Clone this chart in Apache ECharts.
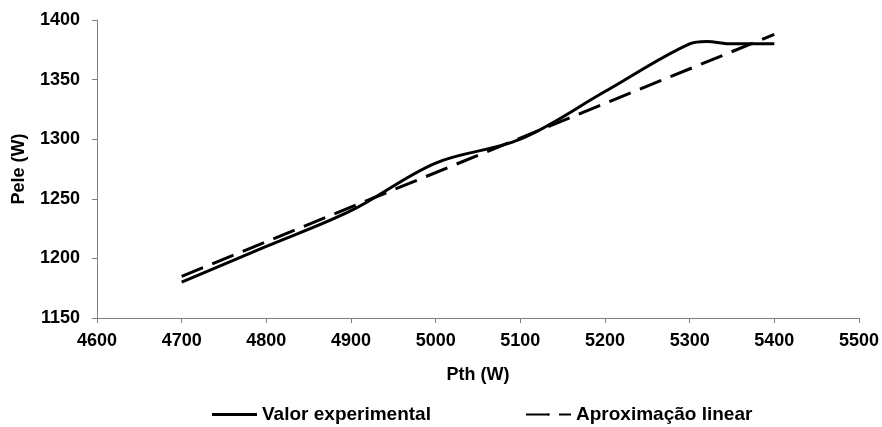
<!DOCTYPE html>
<html>
<head>
<meta charset="utf-8">
<script src="https://cdn.jsdelivr.net/npm/echarts@6/dist/echarts.min.js"></script>
<style>
html, body { margin: 0; padding: 0; background: #fff; }
#main { width: 882px; height: 427px; }
</style>
</head>
<body>
<div id="main"></div>
<script>
// valores
var pth = [4700, 4800, 4900, 5000, 5100, 5200, 5300, 5320, 5350, 5400];
var peleExp = [1180, 1210, 1240, 1280, 1300, 1340, 1380, 1382, 1380, 1380];
var linX = [4700, 5400];
var linY = [1185, 1388];

function pares(xs, ys) {
    return xs.map(function (x, i) { return [x, ys[i]]; });
}

var fonte = 'Liberation Sans, Arial, sans-serif';
var texto = { fontFamily: fonte, fontWeight: 'bold', fontSize: 18, color: '#000' };
var myChart = echarts.init(document.getElementById('main'));
myChart.setOption({
    animation: false,
    grid: { left: 97, right: 21, top: 20, bottom: 109 },
    legend: [{
        left: 207, top: 400,
        itemWidth: 45, itemHeight: 3, itemGap: 4,
        textStyle: { fontFamily: fonte, fontWeight: 'bold', fontSize: 19, color: '#000' },
        data: [{ name: 'Valor experimental', icon: 'rect' }]
    }, {
        left: 520, top: 400,
        itemWidth: 45, itemHeight: 3, itemGap: 3,
        textStyle: { fontFamily: fonte, fontWeight: 'bold', fontSize: 19, color: '#000' },
        data: ['Aproximação linear']
    }],
    xAxis: {
        type: 'value', min: 4600, max: 5500, interval: 100,
        name: 'Pth (W)', nameLocation: 'middle', nameGap: 48,
        nameTextStyle: texto,
        axisLine: { lineStyle: { color: '#808080', width: 1 } },
        axisTick: { show: true, length: 5, lineStyle: { color: '#808080' } },
        axisLabel: Object.assign({ margin: 14, formatter: function (v) { return String(v); } }, texto),
        splitLine: { show: false }
    },
    yAxis: {
        type: 'value', min: 1150, max: 1400, interval: 50,
        name: 'Pele (W)', nameLocation: 'middle', nameGap: 69,
        nameTextStyle: texto,
        axisLine: { show: true, lineStyle: { color: '#808080', width: 1 } },
        axisTick: { show: true, length: 5, lineStyle: { color: '#808080' } },
        axisLabel: Object.assign({ margin: 17, formatter: function (v) { return String(v); } }, texto),
        splitLine: { show: false }
    },
    series: [{
        name: 'Valor experimental',
        type: 'line',
        smooth: 0.35,
        symbol: 'none',
        data: pares(pth, peleExp),
        lineStyle: { color: '#000', width: 3 },
        itemStyle: { color: '#000' }
    }, {
        name: 'Aproximação linear',
        type: 'line',
        symbol: 'none',
        data: pares(linX, linY),
        lineStyle: { color: '#000', width: 3, type: [23, 10] },
        itemStyle: { color: '#000' }
    }]
});
</script>
</body>
</html>
